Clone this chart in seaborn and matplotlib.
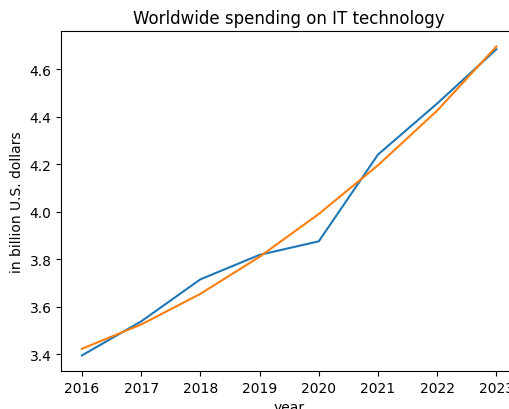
import matplotlib
matplotlib.use("Agg")
import matplotlib.pyplot as plt
import seaborn as sns

years = [2016, 2017, 2018, 2019, 2020, 2021, 2022, 2023]
spending = [3.395, 3.538, 3.715, 3.818, 3.875, 4.240, 4.455, 4.683]
trend = [3.423, 3.525, 3.654, 3.810, 3.990, 4.195, 4.425, 4.695]

fig = plt.figure(figsize=(5.1, 4.1), dpi=100)
ax = fig.add_axes([0.12, 0.093, 0.894, 0.829])

sns.lineplot(x=years, y=spending, ax=ax, color="tab:blue")
sns.lineplot(x=years, y=trend, ax=ax, color="tab:orange")

ax.set_title("Worldwide spending on IT technology")
ax.set_xlabel("year")
ax.set_ylabel("in billion U.S. dollars")

fig.savefig("out.png", dpi=100)
